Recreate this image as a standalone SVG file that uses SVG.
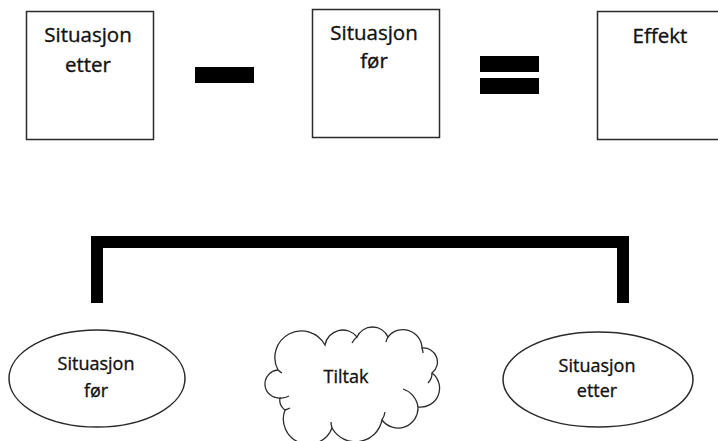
<svg xmlns="http://www.w3.org/2000/svg" width="718" height="441" viewBox="0 0 718 441">
<style>
.box{fill:#fff;stroke:#2b2b2b;stroke-width:1.5}
.t{font-family:"Open Sans","Noto Sans",sans-serif;fill:#111;stroke:#111;stroke-width:0.35;text-anchor:middle}
.big{font-size:20.5px}
.sm{font-size:18px}
.bar{fill:#000}
.cl{fill:#fff;stroke:#2b2b2b;stroke-width:1.3}
.fold{fill:none;stroke:#2b2b2b;stroke-width:1.3}
</style>
<rect width="718" height="441" fill="#fff"/>
<g id="box-etter">
<rect class="box" x="26.5" y="11.5" width="127" height="128"/>
<text class="t big" x="88" y="42">Situasjon</text>
<text class="t big" x="88" y="72">etter</text>
</g>
<g id="minus"><rect class="bar" x="195" y="67" width="59" height="16"/></g>
<g id="box-for">
<rect class="box" x="312.5" y="9.5" width="127" height="128"/>
<text class="t big" x="374" y="40">Situasjon</text>
<text class="t big" x="374" y="68">før</text>
</g>
<g id="equals">
<rect class="bar" x="480" y="56" width="59" height="16"/>
<rect class="bar" x="480" y="78" width="59" height="16"/>
</g>
<g id="box-effekt">
<rect class="box" x="597.5" y="11.5" width="140" height="128"/>
<text class="t big" x="660" y="43">Effekt</text>
</g>
<g id="connectors">
<path class="bar" d="M91 236 H629 V303 H617 V248 H103 V303 H91 Z"/>
</g>
<g id="ell-for">
<ellipse class="box" cx="97" cy="378.5" rx="88" ry="48.5"/>
<text class="t sm" x="96" y="370">Situasjon</text>
<text class="t sm" x="96" y="397">før</text>
</g>
<g id="tiltak">
<path class="cl" d="M280 398 A14 14 0 0 1 278 370 A26 26 0 0 1 325 345 A18 18 0 0 1 357 337 A17 17 0 0 1 388 337 A19 19 0 0 1 422 348 A14 14 0 0 1 432 373 A19 19 0 0 1 418 407 A20 20 0 0 1 382 420 A27 27 0 0 1 332 428 A25 25 0 0 1 285 410 A12 12 0 0 1 280 398 Z"/>
<path class="fold" d="M280 398 A16 16 0 0 0 289 396"/>
<path class="fold" d="M285 410 A24 24 0 0 0 290 408"/>
<path class="fold" d="M332 428 A20 20 0 0 1 331 422"/>
<path class="fold" d="M382 420 A20 20 0 0 0 385 412"/>
<path class="fold" d="M418 407 A22 22 0 0 0 403 389"/>
<path class="fold" d="M432 373 A14 14 0 0 1 428 383"/>
<path class="fold" d="M422 348 A18 18 0 0 1 423 353"/>
<path class="fold" d="M388 337 A16 16 0 0 0 386 342"/>
<path class="fold" d="M357 337 A16 16 0 0 0 352 343"/>
<path class="fold" d="M278 370 A24 24 0 0 0 282 373"/>
<text class="t sm" x="346" y="383">Tiltak</text>
</g>
<g id="ell-etter">
<ellipse class="box" cx="598" cy="379.5" rx="95" ry="47.5"/>
<text class="t sm" x="597" y="372">Situasjon</text>
<text class="t sm" x="597" y="397">etter</text>
</g>
</svg>
